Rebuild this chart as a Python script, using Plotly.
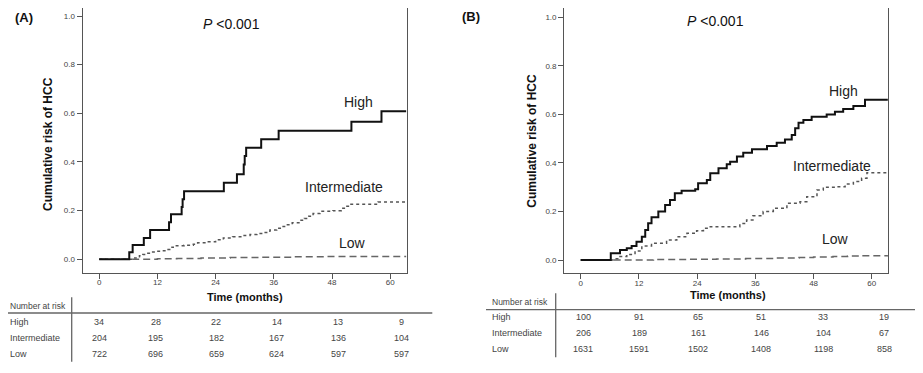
import plotly.graph_objects as go

W, H = 923, 373
OFF = 8  # default body margin of the html page
FW, FH = W - OFF, H - OFF

# ---------------- data ----------------
months_ticks = [0, 12, 24, 36, 48, 60]
y_ticks = [0.0, 0.2, 0.4, 0.6, 0.8, 1.0]
groups = ["High", "Intermediate", "Low"]

# Panel A
a_high_t = [0, 6.2, 6.9, 9.2, 10.5, 14.4, 14.8, 17.0, 17.2, 17.5, 25.7, 28.4, 29.8, 30.0, 30.3, 33.4, 37.0, 52.0, 58.2, 63.3]
a_high_v = [0, 0.029, 0.059, 0.088, 0.12, 0.152, 0.185, 0.215, 0.247, 0.28, 0.315, 0.35, 0.39, 0.425, 0.459, 0.493, 0.528, 0.565, 0.608, 0.608]
a_int_t = [0, 7.0, 7.6, 8.3, 9.0, 9.8, 10.6, 11.5, 13.0, 14.2, 15.0, 15.5, 17.5, 19.4, 20.3, 22.5, 24.0, 25.6, 27.5, 29.2,
           31.1, 32.5, 33.7, 35.2, 36.6, 37.6, 38.6, 39.8, 41.4, 42.3, 43.2, 44.1, 45.5, 48.2, 49.9, 50.8, 51.7, 57.5, 63.3]
a_int_v = [0, 0.005, 0.01, 0.015, 0.02, 0.025, 0.03, 0.033, 0.035, 0.04, 0.05, 0.056, 0.058, 0.062, 0.068, 0.072, 0.08, 0.088, 0.093, 0.098,
           0.102, 0.106, 0.11, 0.12, 0.128, 0.135, 0.142, 0.15, 0.16, 0.168, 0.177, 0.188, 0.197, 0.2, 0.21, 0.218, 0.226, 0.235, 0.235]
a_low_t = [0, 7.0, 12.0, 16.0, 21.0, 27.0, 33.0, 40.0, 47.0, 54.0, 63.3]
a_low_v = [0, 0, 0.002, 0.003, 0.005, 0.007, 0.008, 0.010, 0.011, 0.012, 0.012]
a_risk = {"High": [34, 28, 22, 14, 13, 9],
          "Intermediate": [204, 195, 182, 167, 136, 104],
          "Low": [722, 696, 659, 624, 597, 597]}

# Panel B
b_high_t = [0, 6.2, 8.1, 9.5, 10.5, 11.5, 12.6, 13.3, 13.9, 14.6, 16.0, 17.4, 18.4, 19.4, 20.8, 23.6, 24.2, 26.0, 26.7, 28.4,
            30.1, 30.8, 32.2, 33.5, 35.3, 38.4, 40.4, 42.1, 43.5, 44.2, 44.9, 45.9, 47.6, 50.7, 52.4, 54.1, 56.2, 58.6, 63.3]
b_high_v = [0, 0.028, 0.041, 0.048, 0.058, 0.075, 0.096, 0.124, 0.151, 0.176, 0.2, 0.227, 0.247, 0.275, 0.285, 0.292, 0.316, 0.33, 0.357, 0.378,
            0.395, 0.405, 0.426, 0.442, 0.456, 0.47, 0.483, 0.497, 0.515, 0.543, 0.566, 0.577, 0.59, 0.6, 0.611, 0.622, 0.635, 0.66, 0.66]
b_int_t = [0, 7.1, 8.1, 9.5, 11.2, 12.6, 14.6, 17.7, 19.8, 21.9, 23.9, 25.3, 26.7, 32.8, 34.2, 35.5, 37.6, 39.7, 42.5, 45.2,
           46.6, 48.7, 50.0, 52.8, 54.5, 56.2, 57.9, 59.0, 63.3]
b_int_v = [0, 0.005, 0.014, 0.023, 0.037, 0.058, 0.069, 0.082, 0.096, 0.11, 0.121, 0.131, 0.137, 0.15, 0.165, 0.182, 0.2, 0.213, 0.234, 0.24,
           0.261, 0.288, 0.3, 0.302, 0.313, 0.323, 0.337, 0.36, 0.36]
b_low_t = [0, 7.0, 15.0, 22.0, 28.0, 34.0, 40.0, 45.0, 48.0, 52.0, 55.0, 58.0, 63.3]
b_low_v = [0, 0, 0.002, 0.003, 0.004, 0.006, 0.008, 0.010, 0.012, 0.014, 0.016, 0.018, 0.019]
b_risk = {"High": [100, 91, 65, 51, 33, 19],
          "Intermediate": [206, 189, 161, 146, 104, 67],
          "Low": [1631, 1591, 1502, 1408, 1198, 858]}

# ---------------- helpers (page pixels -> paper coords) ----------------
def px(x):
    return min(1.0, max(0.0, (x - OFF) / FW))

def py(y):
    return min(1.0, max(0.0, 1 - (y - OFF) / FH))

def yrange(y_zero, px_per_unit, top, bottom):
    top = max(top, OFF)
    return [(y_zero - bottom) / px_per_unit, (y_zero - top) / px_per_unit], [py(bottom), py(top)]

FONT = "Liberation Sans, Arial, sans-serif"
styles = {
    "High": dict(color="#111111", width=2),
    "Intermediate": dict(color="#555555", width=1.5, dash="dot"),
    "Low": dict(color="#666666", width=1.5, dash="7px,4px"),
}

fig = go.Figure()

panels = [
    dict(xa="x", ya="y", data=[(a_high_t, a_high_v), (a_int_t, a_int_v), (a_low_t, a_low_v)]),
    dict(xa="x2", ya="y2", data=[(b_high_t, b_high_v), (b_int_t, b_int_v), (b_low_t, b_low_v)]),
]
order = ["Intermediate", "Low", "High"]  # High drawn on top
for p in panels:
    series = dict(zip(groups, p["data"]))
    for g in order:
        t, v = series[g]
        fig.add_trace(go.Scatter(x=t, y=v, mode="lines", line=dict(shape="hv", **styles[g]),
                                 xaxis=p["xa"], yaxis=p["ya"], showlegend=False, hoverinfo="skip"))

axis_common = dict(showline=True, mirror=True, linecolor="#555555", linewidth=1.3,
                   ticks="outside", ticklen=5, tickwidth=1, tickcolor="#555555",
                   showgrid=False, zeroline=False,
                   tickfont=dict(family=FONT, size=8, color="#444444"))

ya_rng, ya_dom = yrange(259.3, 243.3, 3.3, 272.7)
yb_rng, yb_dom = yrange(260.0, 242.7, 4.0, 273.3)

fig.update_layout(
    width=FW, height=FH, margin=dict(l=0, r=0, t=0, b=0),
    paper_bgcolor="white", plot_bgcolor="white",
    xaxis=dict(domain=[px(82.7), px(406.7)], range=[-3.4, 63.4], anchor="y",
               tickvals=months_ticks, ticklabelstandoff=-3, **axis_common),
    yaxis=dict(domain=ya_dom, range=ya_rng, anchor="x",
               tickvals=y_ticks, tickformat=".1f", **axis_common),
    xaxis2=dict(domain=[px(564.3), px(888.3)], range=[-3.38, 63.4], anchor="y2",
                tickvals=months_ticks, ticklabelstandoff=-3, **axis_common),
    yaxis2=dict(domain=yb_dom, range=yb_rng, anchor="x2",
                tickvals=y_ticks, tickformat=".1f", **axis_common),
)

ann = []
def text(x, y, s, size=9, color="#222222", xanchor="center", angle=0):
    ann.append(dict(xref="paper", yref="paper", x=px(x), y=py(y), text=s, showarrow=False,
                    xanchor=xanchor, yanchor="middle", textangle=angle,
                    font=dict(family=FONT, size=size, color=color)))

# panel labels
text(24, 17, "<b>(A)</b>", size=13, color="#111111")
text(471, 16, "<b>(B)</b>", size=13, color="#111111")
# y titles
text(48, 144, "<b>Cumulative risk of HCC</b>", size=12, color="#111111", angle=-90)
text(531.7, 141, "<b>Cumulative risk of HCC</b>", size=12, color="#111111", angle=-90)
# p values
text(231.7, 24, "<i>P</i> &lt;0.001", size=14, color="#111111")
text(715.5, 20.7, "<i>P</i> &lt;0.001", size=14, color="#111111")
# curve labels
text(358, 102, "High", size=14)
text(344, 187, "Intermediate", size=14)
text(352, 243, "Low", size=14)
text(843, 91, "High", size=14)
text(832, 166, "Intermediate", size=14)
text(835, 239, "Low", size=14)
# x titles
text(245, 297, "<b>Time (months)</b>", size=11, color="#111111")
text(728.3, 295, "<b>Time (months)</b>", size=11, color="#111111")

# number-at-risk tables
tables = [
    dict(risk=a_risk, lx=8, head_y=305.7, rows_y=[322, 338, 354],
         cols_x=[99.3, 155.7, 216, 276.7, 338.3, 401.7],
         hline=(8, 432.3, 313), vline=(71.7, 297.3, 361.7)),
    dict(risk=b_risk, lx=490, head_y=301.7, rows_y=[317.3, 333.3, 349.3],
         cols_x=[583.3, 639, 698.3, 761, 823.3, 884],
         hline=(486, 916.7, 309.7), vline=(555.7, 293.3, 357.3)),
]
shapes = []
for tb in tables:
    text(tb["lx"], tb["head_y"], "Number at risk", size=8.5, color="#444444", xanchor="left")
    for g, ry in zip(groups, tb["rows_y"]):
        text(tb["lx"], ry, g, size=9, color="#444444", xanchor="left")
        for cx, n in zip(tb["cols_x"], tb["risk"][g]):
            text(cx, ry, str(n), size=9, color="#444444")
    x0, x1, yy = tb["hline"]
    shapes.append(dict(type="line", xref="paper", yref="paper", x0=px(x0), x1=px(x1), y0=py(yy), y1=py(yy),
                       line=dict(color="#666666", width=1.3)))
    xx, y0, y1 = tb["vline"]
    shapes.append(dict(type="line", xref="paper", yref="paper", x0=px(xx), x1=px(xx), y0=py(y0), y1=py(y1),
                       line=dict(color="#666666", width=1.3)))

fig.update_layout(annotations=ann, shapes=shapes)
fig.write_html("out.html")
